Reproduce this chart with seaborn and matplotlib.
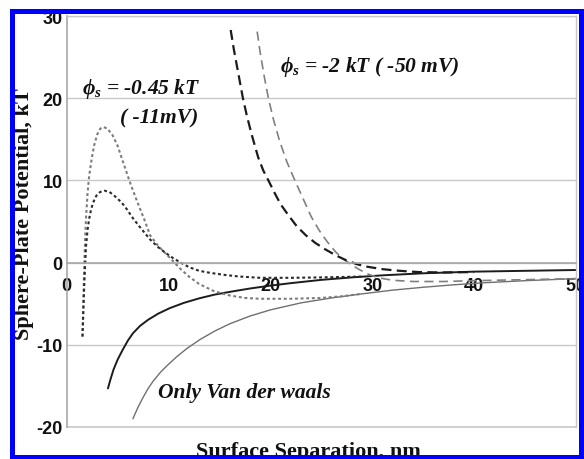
import matplotlib
matplotlib.use("Agg")
import matplotlib.pyplot as plt
from matplotlib.patches import Rectangle
from matplotlib.ticker import MultipleLocator
import numpy as np
import pandas as pd
import seaborn as sns

# ---- curve data (separation in nm, potential in kT) ----
dot_black_x = [1.55, 1.62, 1.7, 1.8, 1.9, 2.05, 2.2, 2.4, 2.6, 2.8, 3.0, 3.3, 3.7, 4.2,
               4.8, 5.4, 5.9, 6.5, 7.2, 8.2, 9.0, 9.8, 10.5, 11.2, 12.0, 13.0, 14.1,
               15.5, 17.0, 19.0, 22.0, 25.0, 27.0, 29.0]
dot_black_y = [-9.0, -6.5, -3.5, -0.5, 2.0, 4.0, 5.3, 6.5, 7.3, 7.9, 8.3, 8.6, 8.75, 8.6,
               8.0, 7.3, 6.5, 5.4, 4.3, 2.8, 1.85, 1.1, 0.5, 0.0, -0.55, -1.0, -1.25,
               -1.5, -1.7, -1.85, -1.85, -1.8, -1.75, -1.7]

dot_gray_x = [1.55, 1.62, 1.7, 1.8, 1.9, 2.05, 2.2, 2.45, 2.7, 3.0, 3.3, 3.6, 4.0, 4.5,
              5.0, 5.6, 6.2, 6.8, 7.6, 8.2, 9.0, 9.8, 10.5, 11.2, 12.0, 13.0, 14.5,
              16.0, 17.5, 19.0, 22.0, 25.0, 27.0, 29.0]
dot_gray_y = [-9.0, -5.5, -1.5, 2.5, 5.5, 8.5, 10.5, 12.6, 14.3, 15.6, 16.3, 16.5, 16.3, 15.5,
              14.2, 12.0, 9.8, 7.8, 5.3, 3.3, 2.0, 1.0, 0.1, -0.8, -1.7, -2.6, -3.5,
              -4.0, -4.3, -4.4, -4.4, -4.3, -4.1, -3.8]

solid_black_x = [4.05, 4.3, 4.6, 5.0, 5.5, 6.0, 6.5, 7.2, 8.0, 9.0, 10.1, 11.5, 13.0, 14.5,
                 16.3, 18.0, 20.0, 22.0, 25.0, 28.0, 31.0, 35.0, 40.0, 45.0, 50.0]
solid_black_y = [-15.3, -14.2, -13.0, -11.8, -10.6, -9.5, -8.6, -7.7, -6.95, -6.2, -5.55,
                 -4.9, -4.35, -3.9, -3.5, -3.15, -2.8, -2.5, -2.1, -1.8, -1.55, -1.3, -1.1,
                 -1.0, -0.9]

vdw_x = [6.5, 7.0, 7.5, 8.0, 8.5, 9.2, 9.8, 10.8, 11.8, 13.1, 14.5, 16.0, 18.0, 20.0, 23.0,
         26.0, 29.0, 32.0, 35.0, 38.0, 41.0, 45.0, 50.0]
vdw_y = [-19.0, -17.6, -16.4, -15.3, -14.4, -13.35, -12.6, -11.45, -10.45, -9.35, -8.35,
         -7.45, -6.5, -5.75, -4.9, -4.3, -3.8, -3.35, -3.0, -2.7, -2.45, -2.2, -1.95]

dash_black_x = [16.1, 16.4, 16.7, 17.0, 17.3, 17.7, 18.2, 18.8, 19.3, 19.8, 20.4, 21.0, 21.8,
                22.6, 23.5, 24.4, 25.4, 26.4, 27.4, 28.5, 29.5, 31.0, 32.7, 34.5, 37.0, 40.0]
dash_black_y = [28.3, 26.0, 24.0, 22.0, 20.0, 17.8, 15.4, 12.8, 11.2, 10.0, 8.5, 7.1, 5.7,
                4.4, 3.3, 2.4, 1.6, 0.9, 0.3, -0.2, -0.5, -0.8, -1.0, -1.15, -1.2, -1.15]

dash_gray_x = [18.7, 19.0, 19.4, 19.8, 20.3, 20.9, 21.6, 22.4, 23.2, 24.0, 24.8, 25.6, 26.4,
               27.2, 28.0, 28.8, 29.6, 30.6, 32.0, 34.0, 37.0, 40.0, 44.0, 50.0]
dash_gray_y = [28.1, 25.5, 22.6, 20.0, 17.4, 14.8, 12.3, 10.0, 7.8, 5.6, 3.9, 2.5, 1.3,
               0.4, -0.3, -0.9, -1.4, -1.85, -2.15, -2.3, -2.3, -2.2, -2.1, -1.95]

x_ticks = [0, 10, 20, 30, 40, 50]
y_ticks = [-20, -10, 0, 10, 20, 30]

sns.set_style("white")
plt.rcParams["font.family"] = ["Liberation Sans", "DejaVu Sans"]
plt.rcParams["mathtext.fontset"] = "custom"
plt.rcParams["mathtext.it"] = "Liberation Serif:italic:bold"
plt.rcParams["mathtext.rm"] = "Liberation Serif:italic:bold"

fig = plt.figure(figsize=(5.84, 4.60), dpi=100)
fig.patch.set_facecolor("white")
ax = fig.add_axes([0.11421, 0.06957, 0.87209, 0.89347])

curves = [
    (vdw_x, vdw_y, "#707070", 1.0, "-"),
    (solid_black_x, solid_black_y, "#1c1c1c", 1.4, "-"),
    (dot_gray_x, dot_gray_y, "#7c7c7c", 1.5, (0, (1.4, 1.3))),
    (dot_black_x, dot_black_y, "#2a2a2a", 1.5, (0, (1.4, 1.3))),
    (dash_gray_x, dash_gray_y, "#808080", 1.2, (0, (5.5, 3.2))),
    (dash_black_x, dash_black_y, "#1c1c1c", 1.6, (0, (4.5, 2.4))),
]
for xs, ys, col, lw, ls in curves:
    df = pd.DataFrame({"sep": xs, "pot": ys})
    sns.lineplot(data=df, x="sep", y="pot", ax=ax, color=col, linewidth=lw,
                 linestyle=ls, sort=False, estimator=None)

ax.set_xlim(0, 50)
ax.set_ylim(-20, 30)
ax.xaxis.set_major_locator(MultipleLocator(10))
ax.xaxis.set_minor_locator(MultipleLocator(5))
ax.yaxis.set_major_locator(MultipleLocator(10))
ax.yaxis.set_minor_locator(MultipleLocator(5))
ax.set_xticks(x_ticks)
ax.set_yticks(y_ticks)
ax.set_xticklabels([str(t) for t in x_ticks])
ax.set_yticklabels([str(t) for t in y_ticks])

# axis through zero, Excel-like frame
ax.spines["bottom"].set_position(("data", 0))
for side in ("left", "bottom"):
    ax.spines[side].set_color("#a8a8a8")
    ax.spines[side].set_linewidth(1.2)
for side in ("top", "right"):
    ax.spines[side].set_color("#c8c8c8")
    ax.spines[side].set_linewidth(1.0)
ax.yaxis.grid(True, which="major", color="#c8c8c8", linewidth=1.0)
ax.xaxis.grid(False)
ax.axhline(-20, color="#c8c8c8", linewidth=1.2, clip_on=False, zorder=0.5)

ax.tick_params(which="both", direction="in", length=3, width=0.8, color="#a8a8a8")
ax.tick_params(axis="x", which="major", pad=10.5)
ax.tick_params(axis="y", which="major", pad=3.0)
for lab in ax.get_xticklabels() + ax.get_yticklabels():
    lab.set_fontfamily("Liberation Sans")
    lab.set_fontweight("bold")
    lab.set_fontsize(13)
    lab.set_color("#111111")

serif_bold = dict(family="Liberation Serif", weight="bold", size=16, color="#111111")
ax.set_xlabel("Surface Separation, nm", **serif_bold)
ax.set_ylabel("Sphere-Plate Potential, kT", **serif_bold)
ax.xaxis.set_label_coords(0.474, -0.034)
ax.yaxis.set_label_coords(-0.0835, 0.521)
ax.yaxis.label.set_verticalalignment("center")

note = dict(family="Liberation Serif", weight="bold", style="italic", size=15.5,
            color="#111111", ha="left", va="baseline")
ax.text(1.5, 20.6, r"$\phi_s$ = -0.45 kT", **note)
ax.text(5.24, 17.0, "( -11mV)", **note)
ax.text(20.95, 23.35, r"$\phi_s$ = -2 kT ( -50 mV)", **note)
ax.text(8.96, -16.4, "Only Van der waals", **note)

# blue outer frame
fig.add_artist(Rectangle((0.02055, 0.00435), 0.99486 - 0.02055, 0.97326 - 0.00435,
                         transform=fig.transFigure, fill=False, edgecolor="#0000ff",
                         linewidth=3.6, zorder=10))

fig.savefig("out.png", dpi=100, facecolor="white")
